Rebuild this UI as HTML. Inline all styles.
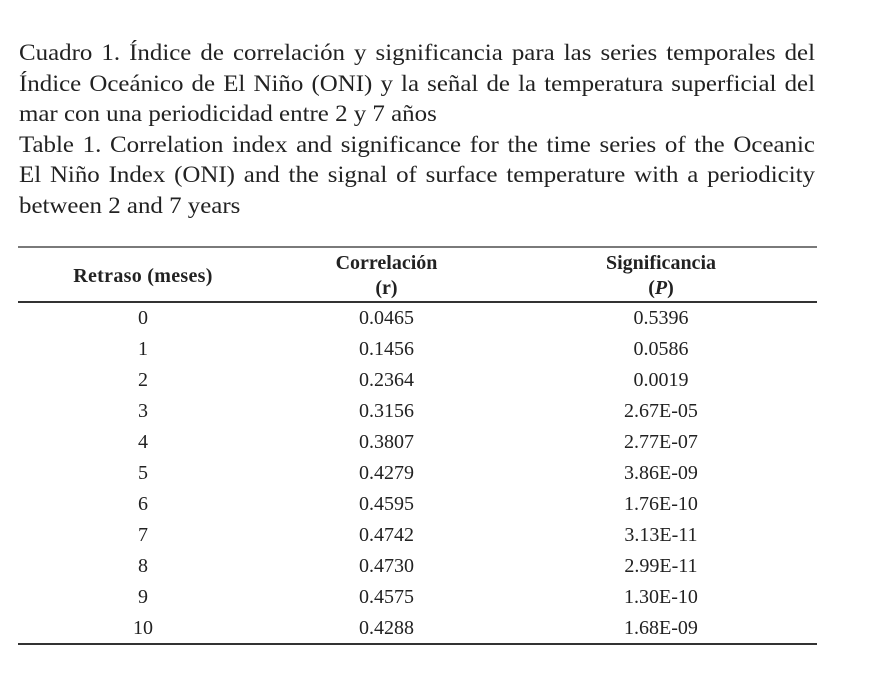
<!DOCTYPE html>
<html>
<head>
<meta charset="utf-8">
<style>
  html, body { margin:0; padding:0; background:#fff; }
  body { width:883px; height:685px; position:relative; overflow:hidden;
         font-family:"Liberation Serif", "Times New Roman", serif; color:#222; }
  .cap { position:absolute; left:19px; width:735px; height:30px; line-height:30px;
         font-size:23px; white-space:nowrap; transform:scaleX(1.083); transform-origin:0 0; }
  .j { text-align:justify; text-align-last:justify; white-space:normal; }
  .t { position:absolute; font-size:20px; line-height:20px; height:20px; text-align:center; white-space:nowrap; }
  .c1 { left:43px; width:200px; }
  .c2 { left:286px; width:201px; }
  .c3 { left:561px; width:200px; }
  .b { font-weight:bold; }
  .line { position:absolute; left:18px; width:799px; }
</style>
</head>
<body>
  <div class="cap j" style="top:38px;">Cuadro 1. Índice de correlación y significancia para las series temporales del</div>
  <div class="cap j" style="top:68.5px;">Índice Oceánico de El Niño (ONI) y la señal de la temperatura superficial del</div>
  <div class="cap" style="top:99px;">mar con una periodicidad entre 2 y 7 años</div>
  <div class="cap j" style="top:129.7px;">Table 1. Correlation index and significance for the time series of the Oceanic</div>
  <div class="cap j" style="top:160.3px;">El Niño Index (ONI) and the signal of surface temperature with a periodicity</div>
  <div class="cap" style="top:190.9px;">between 2 and 7 years</div>

  <div class="line" style="top:246px; height:2px; background:#7a7a7a;"></div>
  <div class="line" style="top:301px; height:1.5px; background:#333;"></div>
  <div class="line" style="top:643px; height:1.5px; background:#333;"></div>

  <div class="t c1 b" style="top:265.5px; letter-spacing:0.3px;">Retraso (meses)</div>
  <div class="t c2 b" style="top:253px;">Correlación</div>
  <div class="t c2 b" style="top:278px;">(r)</div>
  <div class="t c3 b" style="top:253px;">Significancia</div>
  <div class="t c3 b" style="top:278px;">(<i>P</i>)</div>

  <div class="t c1" style="top:308px;">0</div>
  <div class="t c2" style="top:308px;">0.0465</div>
  <div class="t c3" style="top:308px;">0.5396</div>

  <div class="t c1" style="top:339px;">1</div>
  <div class="t c2" style="top:339px;">0.1456</div>
  <div class="t c3" style="top:339px;">0.0586</div>

  <div class="t c1" style="top:370px;">2</div>
  <div class="t c2" style="top:370px;">0.2364</div>
  <div class="t c3" style="top:370px;">0.0019</div>

  <div class="t c1" style="top:401px;">3</div>
  <div class="t c2" style="top:401px;">0.3156</div>
  <div class="t c3" style="top:401px;">2.67E-05</div>

  <div class="t c1" style="top:432px;">4</div>
  <div class="t c2" style="top:432px;">0.3807</div>
  <div class="t c3" style="top:432px;">2.77E-07</div>

  <div class="t c1" style="top:463px;">5</div>
  <div class="t c2" style="top:463px;">0.4279</div>
  <div class="t c3" style="top:463px;">3.86E-09</div>

  <div class="t c1" style="top:494px;">6</div>
  <div class="t c2" style="top:494px;">0.4595</div>
  <div class="t c3" style="top:494px;">1.76E-10</div>

  <div class="t c1" style="top:525px;">7</div>
  <div class="t c2" style="top:525px;">0.4742</div>
  <div class="t c3" style="top:525px;">3.13E-11</div>

  <div class="t c1" style="top:556px;">8</div>
  <div class="t c2" style="top:556px;">0.4730</div>
  <div class="t c3" style="top:556px;">2.99E-11</div>

  <div class="t c1" style="top:587px;">9</div>
  <div class="t c2" style="top:587px;">0.4575</div>
  <div class="t c3" style="top:587px;">1.30E-10</div>

  <div class="t c1" style="top:618px;">10</div>
  <div class="t c2" style="top:618px;">0.4288</div>
  <div class="t c3" style="top:618px;">1.68E-09</div>
</body>
</html>
